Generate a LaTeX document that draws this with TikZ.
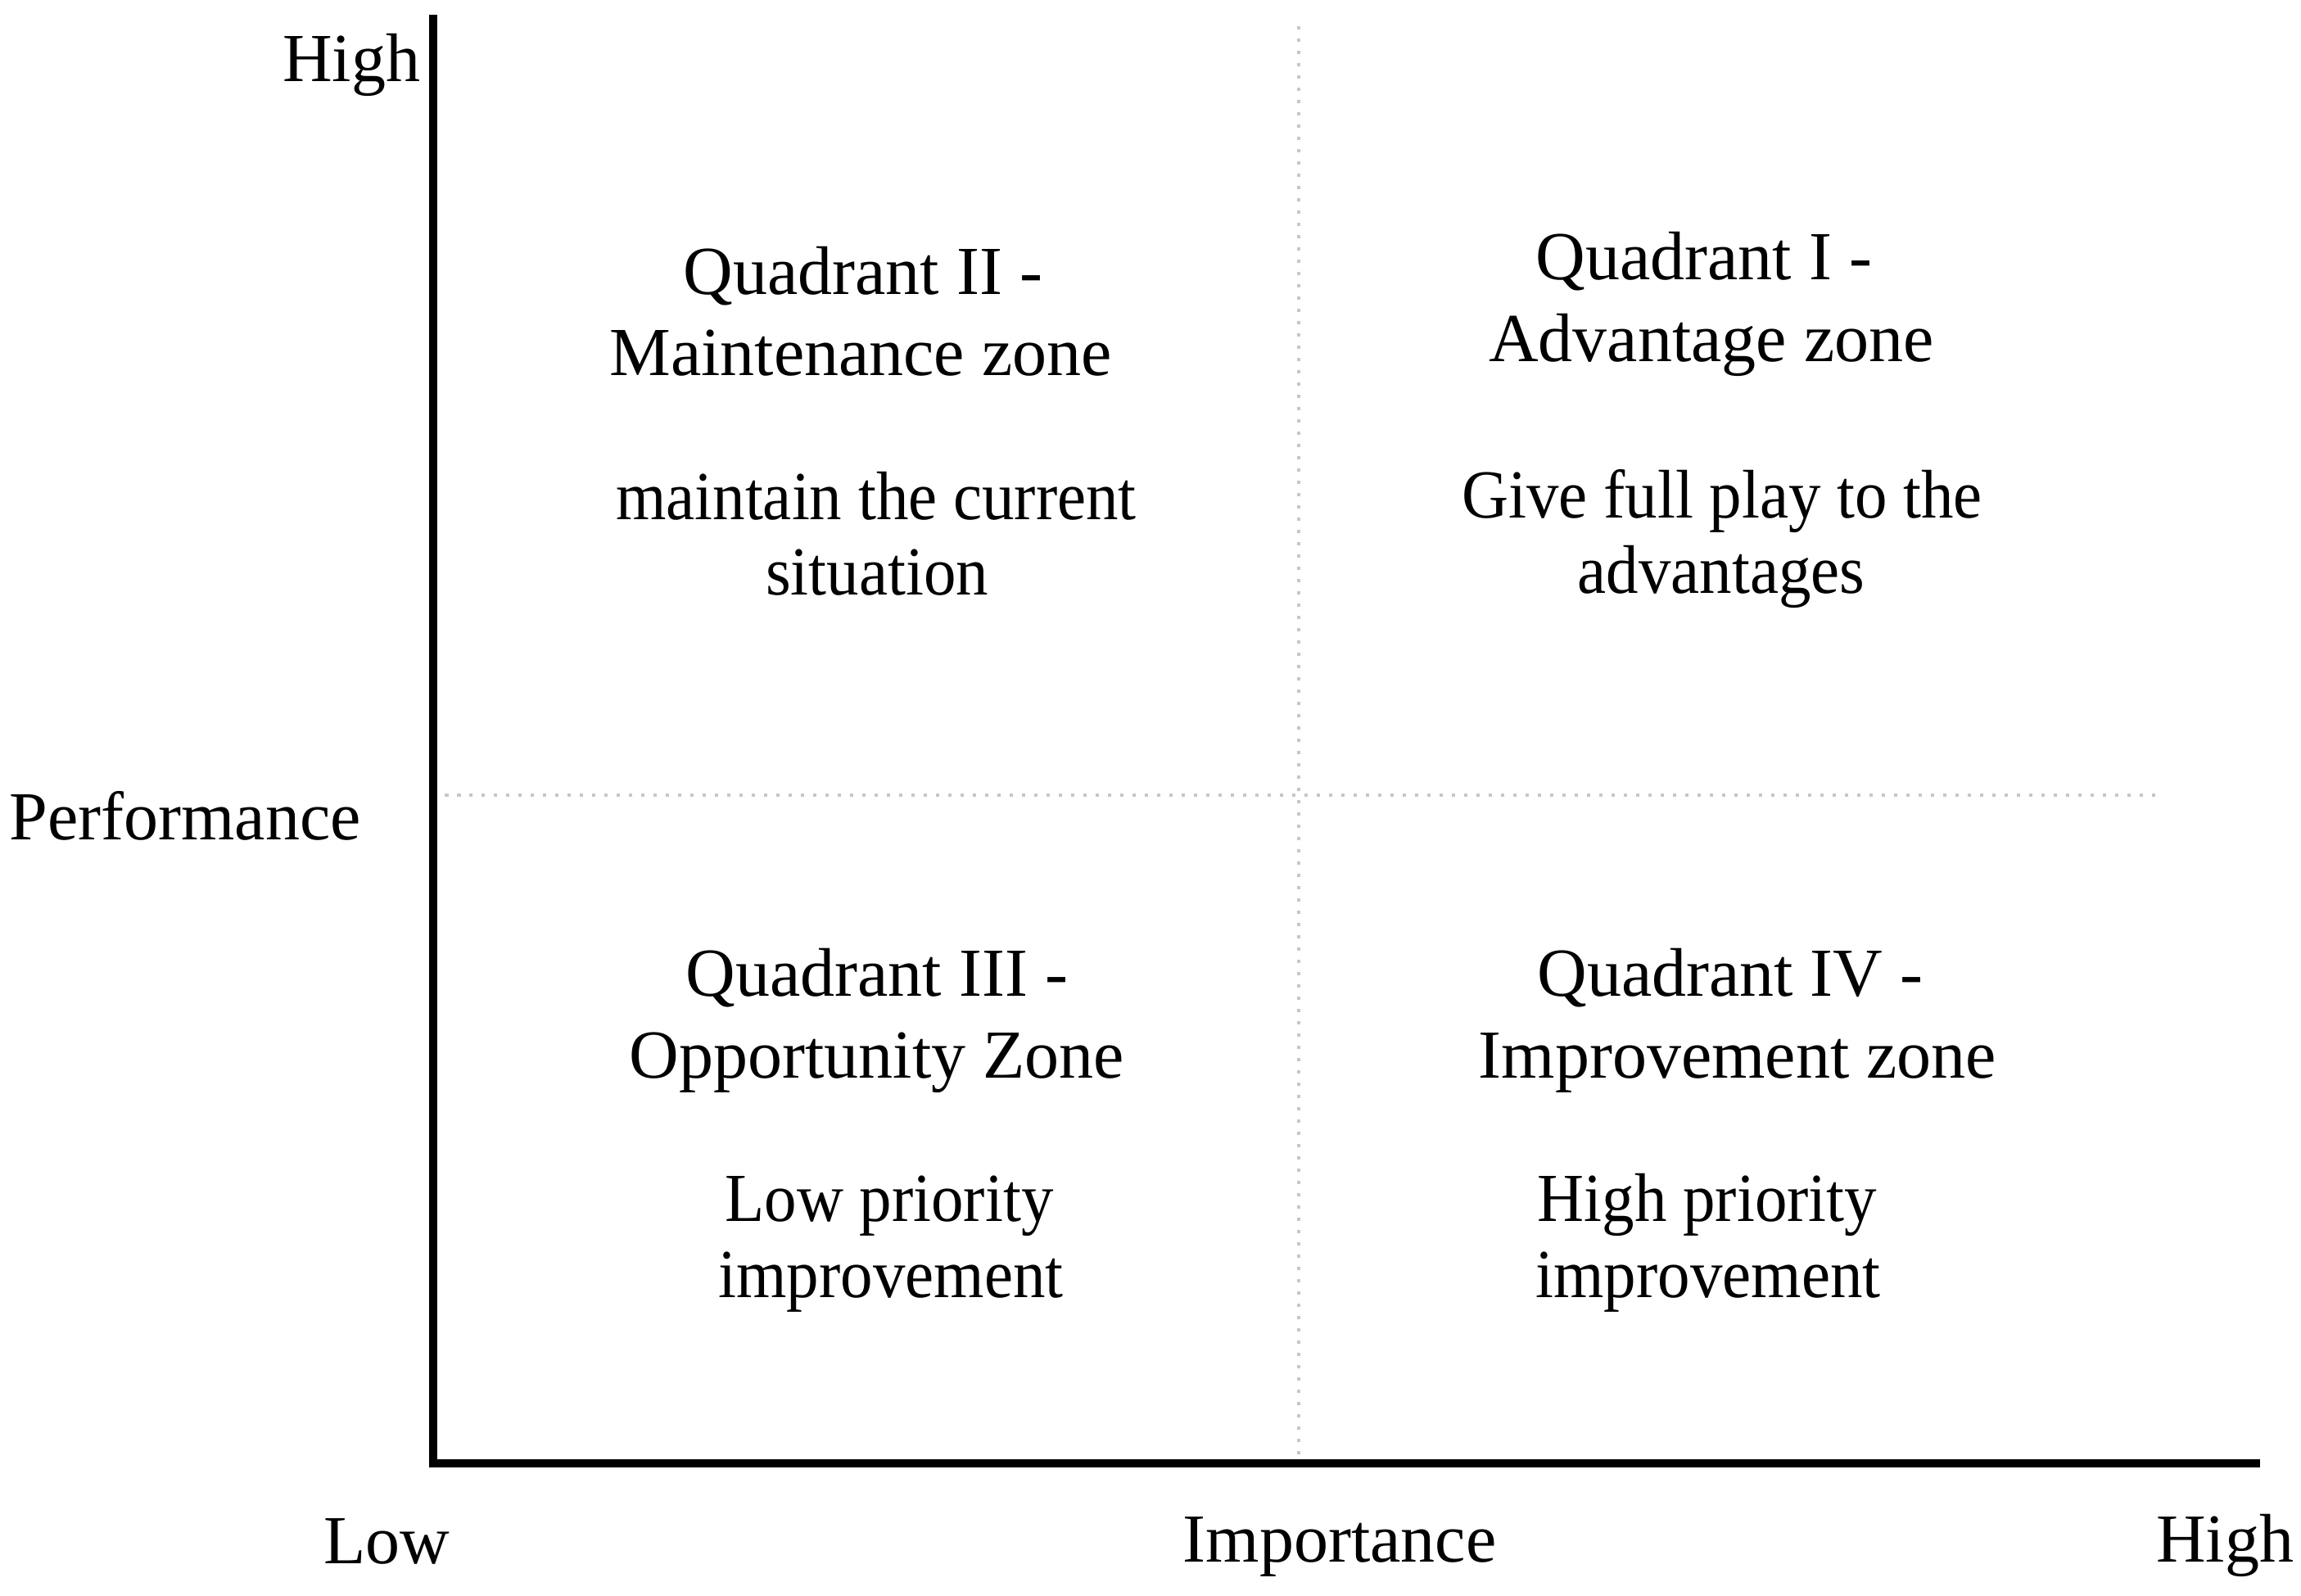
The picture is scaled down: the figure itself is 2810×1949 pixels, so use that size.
\documentclass[tikz,border=0pt]{standalone}
\usepackage{fontspec}
\setmainfont{Liberation Serif}
\newfontfamily\narrowserif[FakeStretch=0.94]{Liberation Serif}
\begin{document}
\begin{tikzpicture}[x=0.1pt,y=-0.1pt,
  lbl/.style={inner sep=0pt,outer sep=0pt,anchor=base,font=\fontsize{8.4pt}{9.7pt}\selectfont},
  bodylbl/.style={lbl,font=\narrowserif\fontsize{8.4pt}{9.7pt}\selectfont},
  axisline/.style={line width=1pt,black,line join=miter},
  gridline/.style={line width=0.45pt,black!22,dash pattern=on 0.45pt off 1.05pt}]
\useasboundingbox (0,0) rectangle (2810,1949);
% axes
\coordinate (ytop) at (529,18);
\coordinate (origin) at (529,1787);
\coordinate (xend) at (2760,1787);
\draw[axisline] (ytop) -- (origin) -- (xend);
% dotted dividers
\coordinate (vtop) at (1586,32);
\coordinate (vbot) at (1586,1782);
\coordinate (hleft) at (543,971);
\coordinate (hright) at (2633,971);
\draw[gridline] (vtop) -- (vbot);
\draw[gridline] (hleft) -- (hright);
% axis labels
\node[lbl,anchor=base east] (yhigh) at (513,100) {High};
\node[lbl] (perf) at (226,1026) {Performance};
\node[lbl] (xlow) at (472,1910) {Low};
\node[lbl] (imp) at (1636,1908) {Importance};
\node[lbl] (xhigh) at (2717,1908) {High};
% Quadrant II
\node[lbl] (q2a) at (1054,360) {Quadrant II -};
\node[lbl] (q2b) at (1051,459) {Maintenance zone};
\node[bodylbl] (q2c) at (1070,635) {maintain the current};
\node[bodylbl] (q2d) at (1071,727) {situation};
% Quadrant I
\node[lbl] (q1a) at (2081,342) {Quadrant I -};
\node[lbl] (q1b) at (2090,442) {Advantage zone};
\node[bodylbl] (q1c) at (2103,633) {Give full play to the};
\node[bodylbl] (q1d) at (2102,725) {advantages};
% Quadrant III
\node[lbl] (q3a) at (1071,1217) {Quadrant III -};
\node[lbl] (q3b) at (1071,1317) {Opportunity Zone};
\node[bodylbl] (q3c) at (1086,1492) {Low priority};
\node[bodylbl] (q3d) at (1088,1585) {improvement};
% Quadrant IV
\node[lbl] (q4a) at (2113,1217) {Quadrant IV -};
\node[lbl] (q4b) at (2122,1317) {Improvement zone};
\node[bodylbl] (q4c) at (2085,1492) {High priority};
\node[bodylbl] (q4d) at (2086,1585) {improvement};
\end{tikzpicture}
\end{document}
